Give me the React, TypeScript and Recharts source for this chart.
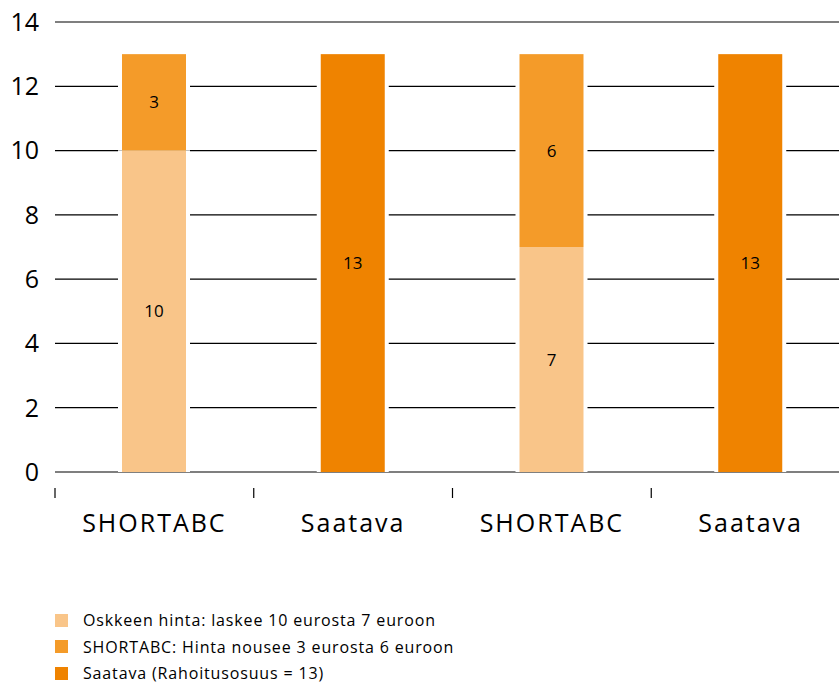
import React from 'react';
import { BarChart, Bar, XAxis, YAxis, CartesianGrid, LabelList } from 'recharts';

const categories = ['SHORTABC', 'Saatava', 'SHORTABC', 'Saatava'];
const oskkeenHinta = [10, 0, 7, 0];
const shortHinta = [3, 0, 6, 0];
const saatava = [0, 13, 0, 13];
const yTicks = [0, 2, 4, 6, 8, 10, 12, 14];

const series = [
  { key: 'oskkeen', name: 'Oskkeen hinta: laskee 10 eurosta 7 euroon', color: '#F9C589', values: oskkeenHinta },
  { key: 'short', name: 'SHORTABC: Hinta nousee 3 eurosta 6 euroon', color: '#F49B29', values: shortHinta },
  { key: 'saatava', name: 'Saatava (Rahoitusosuus = 13)', color: '#EF8300', values: saatava },
];

const data = categories.map((c, i) => {
  const row: Record<string, string | number | null> = { idx: i, name: c };
  series.forEach(s => {
    row[s.key] = s.values[i] === 0 ? null : s.values[i];
  });
  return row;
});

const FONT = '"Open Sans", sans-serif';
const CHART_W = 850;
const CHART_H = 686;
const LEFT = 55;
const BAND = (CHART_W - LEFT) / categories.length;

// white strip either side of each bar, so gridlines stop short of the bars
const GapBar = (props: any) => {
  const { x, y, width, height, fill } = props;
  if (!height || height <= 0) return null;
  return (
    <g>
      <rect x={x - 4} y={y} width={width + 8} height={height} fill="#fff" />
      <rect x={x} y={y} width={width} height={height} fill={fill} />
    </g>
  );
};

const XTick = (props: any) => {
  const { x, y, payload } = props;
  const left = x - BAND / 2;
  return (
    <g>
      <line x1={left} x2={left} y1={y + 1} y2={y + 11} stroke="#000" strokeWidth={1.2} />
      <text x={x} y={y + 35} textAnchor="middle" dominantBaseline="central" fontSize={25} letterSpacing={2} fontFamily={FONT} fill="#000">
        {categories[payload.value]}
      </text>
    </g>
  );
};

export default function App() {
  return (
    <div style={{ position: 'fixed', left: 0, top: 0, width: 839, height: 686, overflow: 'hidden', background: '#fff' }}>
      <BarChart width={CHART_W} height={CHART_H} data={data} margin={{ top: 22, right: 0, left: 0, bottom: 144 }}>
        <CartesianGrid vertical={false} stroke="#000" strokeWidth={1.2} />
        <XAxis dataKey="idx" type="category" axisLine={false} tickLine={false} height={70} tick={<XTick />} interval={0} tickMargin={9} />
        <YAxis
          domain={[0, 14]}
          ticks={yTicks}
          width={LEFT}
          axisLine={false}
          tickLine={false}
          tick={{ fontSize: 25, fill: '#000', fontFamily: FONT, dx: -8 }}
        />
        {series.map(s => (
          <Bar key={s.key} dataKey={s.key} name={s.name} stackId="a" fill={s.color} barSize={64} shape={<GapBar />} isAnimationActive={false}>
            <LabelList dataKey={s.key} position="center" fill="#000" fontSize={17} fontFamily={FONT} />
          </Bar>
        ))}
      </BarChart>
      <div style={{ position: 'absolute', left: 55, top: 607, fontFamily: FONT, fontSize: 16, letterSpacing: 0.85, color: '#000' }}>
        {series.map(s => (
          <div key={s.key} style={{ display: 'flex', alignItems: 'center', height: 26.5 }}>
            <span style={{ display: 'inline-block', width: 13, height: 13, background: s.color, marginRight: 15 }} />
            <span>{s.name}</span>
          </div>
        ))}
      </div>
    </div>
  );
}
